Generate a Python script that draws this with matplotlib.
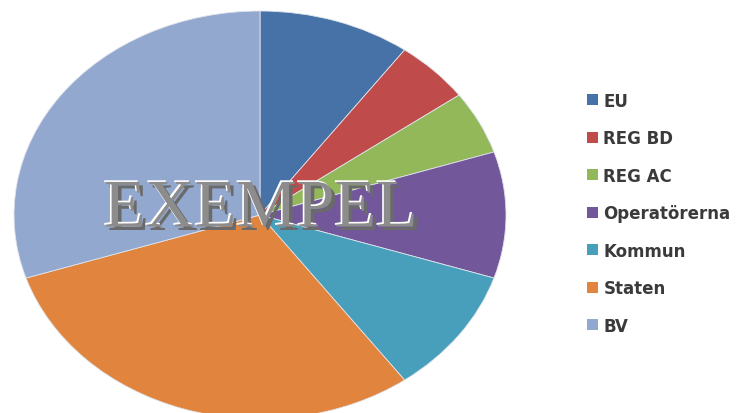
import matplotlib
matplotlib.use("Agg")
import matplotlib.pyplot as plt
import matplotlib.patches as mpatches
import matplotlib.patheffects as pe

# finansiering per part (procent)
labels = ["EU", "REG BD", "REG AC", "Operatörerna", "Kommun", "Staten", "BV"]
shares = [10, 5, 5, 10, 10, 30, 30]
colors = ["#4672a8", "#bf4b4a", "#93b85a", "#72589a", "#479fbb", "#e0843e", "#93a8cf"]

W, H = 752, 414
fig = plt.figure(figsize=(W / 100, H / 100), dpi=100)
fig.patch.set_facecolor("white")

# elliptic pie: centre (260, 216) px, radii 246 x 204 px
cx, cy, rx, ry = 260, 216, 246, 204
ax = fig.add_axes([(cx - rx) / W, (H - cy - ry) / H, 2 * rx / W, 2 * ry / H])
ax.pie(shares, colors=colors, startangle=90, counterclock=False,
       radius=1, wedgeprops=dict(edgecolor="#dfe3ea", linewidth=0.6))
ax.set_aspect("auto")
ax.set_xlim(-1, 1)
ax.set_ylim(-1, 1)
ax.axis("off")

# watermark
fig.text(cx / W + 0.001, 1 - 211 / H, "EXEMPEL", ha="center", va="center",
         family="Liberation Serif", fontsize=49, color="#8c8c8c",
         path_effects=[pe.SimplePatchShadow(offset=(2.5, -2.5), shadow_rgbFace="#6a6a6a", alpha=1),
                       pe.SimplePatchShadow(offset=(-1.2, 1.2), shadow_rgbFace="white", alpha=1),
                       pe.Normal()])

handles = [mpatches.Patch(facecolor=c, edgecolor="none") for c in colors]
fig.legend(handles, labels, loc="upper left", bbox_to_anchor=(580 / W, 1 - 86 / H),
           frameon=False, prop=dict(family="DejaVu Sans", weight="bold", size=12),
           labelcolor="#3a3a3a", handlelength=0.65, handleheight=0.65,
           handletextpad=0.35, labelspacing=1.17, borderaxespad=0)

fig.savefig("out.png", dpi=100)
